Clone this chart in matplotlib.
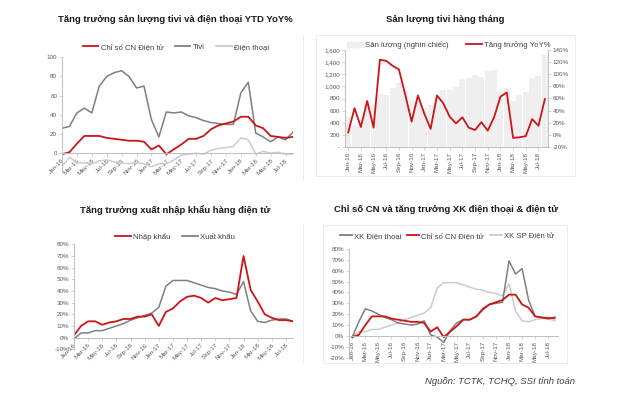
import matplotlib
matplotlib.use('Agg')
import matplotlib.pyplot as plt
from matplotlib.lines import Line2D
from matplotlib.patches import Rectangle, Patch

plt.rcParams['font.family'] = ['Liberation Sans', 'DejaVu Sans']

month_abbr = ['Jan', 'Feb', 'Mar', 'Apr', 'May', 'Jun', 'Jul', 'Aug', 'Sep', 'Oct', 'Nov', 'Dec']
months = [f"{m}-{y}" for y in ('16', '17', '18') for m in month_abbr][:32]

# Panel 1: YTD YoY% growth
cn_dien_tu = [-1, 1, 10, 18, 18, 18, 16, 15, 14, 13, 13, 12, 4, 8, -1, 4,
              9, 15, 15, 18, 25, 29, 31, 33, 38, 38, 29, 26, 18, 17, 16, 17]
tivi_ytd = [26, 28, 42, 47, 42, 70, 80, 84, 86, 80, 68, 70, 35, 17, 43, 42,
            43, 39, 37, 34, 32, 31, 30, 30, 63, 74, 21, 17, 12, 17, 14, 22]
dien_thoai_ytd = [-14, -4, -10, -10, -11, -8, -7, -9, -10, -11, -10, -11, -14, -11, -11, -7,
                  -2, -1, 0, -1, 3, 5, 6, 7, 16, 14, -1, 2, 0, 1, -1, -1]

# Panel 2: monthly TV output
san_luong_tivi = [500, 350, 350, 690, 690, 870, 860, 970, 1050, 930, 760, 800, 640, 690, 830, 940,
                  940, 995, 1115, 1140, 1190, 1150, 1250, 1270, 920, 970, 760, 860, 910, 1130, 1170, 1520]
tivi_yoy = [4, 44, 13, 56, 12, 124, 122, 114, 108, 66, 22, 65, 35, 10, 65, 52,
            30, 19, 29, 12, 8, 21, 7, 29, 63, 70, -5, -4, -2, 26, 15, 59]

# Panel 3: electronics import / export growth
nhap_khau = [2, 10, 14, 14, 11, 13, 14, 16, 16, 18, 18, 20, 10, 22, 25, 31,
             35, 36, 34, 30, 34, 32, 33, 34, 70, 41, 31, 20, 17, 15, 15, 14]
xuat_khau = [-1, 4, 4, 6, 6, 8, 10, 12, 15, 17, 19, 21, 26, 44, 49, 49,
             49, 47, 45, 43, 42, 40, 39, 37, 48, 23, 14, 13, 15, 16, 16, 14]

# Panel 4
xk_dien_thoai = [-1, 13, 25, 23, 20, 17, 15, 12, 11, 10, 11, 14, 1, -1, -6, 5,
                 12, 15, 15, 18, 24, 29, 30, 31, 69, 57, 62, 33, 18, 17, 17, 16]
xk_sp_dien_tu = xuat_khau

RED = '#CC1518'
DARK = '#7F7F7F'
LIGHT = '#CCCCCC'
BAR = '#EFEFEF'
TXT = '#595959'
AX = '#BFBFBF'

W, H = 640, 393
fig = plt.figure(figsize=(W / 100, H / 100), dpi=100)
fig.patch.set_facecolor('white')


def ax_px(x0, y0, x1, y1):
    return fig.add_axes([x0 / W, 1 - y1 / H, (x1 - x0) / W, (y1 - y0) / H])


def style(ax, right=False):
    for s in ['top', 'right', 'left', 'bottom']:
        ax.spines[s].set_visible(False)
    ax.spines['bottom'].set_visible(True)
    ax.spines['left'].set_visible(not right)
    ax.spines['right'].set_visible(right)
    for s in ['left', 'bottom', 'right']:
        ax.spines[s].set_color(AX)
        ax.spines[s].set_linewidth(0.7)
    ax.tick_params(length=2, width=0.5, color=AX, labelsize=4.5, labelcolor=TXT, pad=1.5)
    ax.set_facecolor('none')


def title(x, y, s):
    fig.text(x / W, 1 - y / H, s, ha='center', va='center', fontsize=6.8,
             fontweight='bold', color='#1a1a1a')


def legend(ax, handles, labels, x, y, spacing=1.5):
    ax.legend(handles, labels, loc='center', bbox_to_anchor=(x / W, 1 - y / H),
              bbox_transform=fig.transFigure, ncol=len(handles), frameon=False,
              fontsize=5.6, handlelength=2.0, handletextpad=0.3, columnspacing=spacing,
              labelcolor='#404040')


def line_h(c, lw=1.3):
    return Line2D([0], [0], color=c, lw=lw)


x = list(range(32))
tick_pos = list(range(0, 32, 2))
tick_lab = months[::2]

# borders
fig.add_artist(Line2D([303 / W, 303 / W], [1 - 35 / H, 1 - 180 / H], color='#E8E8E8', lw=0.6))
fig.add_artist(Line2D([303 / W, 303 / W], [1 - 225 / H, 1 - 363 / H], color='#E8E8E8', lw=0.6))
fig.add_artist(Rectangle((316 / W, 1 - 176 / H), (575 - 316) / W, (176 - 35) / H,
                         transform=fig.transFigure, fill=False, ec='#E8E8E8', lw=0.6))
fig.add_artist(Rectangle((323 / W, 1 - 363 / H), (567 - 323) / W, (363 - 225) / H,
                         transform=fig.transFigure, fill=False, ec='#E8E8E8', lw=0.6))

# ---------- Panel 1 ----------
ax1 = ax_px(62, 57.3, 293, 172.4)
style(ax1)
ax1.plot(x, dien_thoai_ytd, color=LIGHT, lw=1.1)
ax1.plot(x, tivi_ytd, color=DARK, lw=1.1)
ax1.plot(x, cn_dien_tu, color=RED, lw=1.3)
ax1.set_xlim(0, 31)
ax1.set_ylim(-20, 100)
ax1.spines['bottom'].set_position(('data', 0))
ax1.set_yticks([0, 20, 40, 60, 80, 100])
ax1.set_xticks(tick_pos)
ax1.set_xticklabels(tick_lab, rotation=45, ha='right', rotation_mode='anchor')
title(175, 20, 'Tăng trưởng sản lượng tivi và điện thoại YTD YoY%')
legend(ax1, [line_h(RED), line_h(DARK), line_h(LIGHT)],
       ['Chỉ số CN Điện tử', 'Tivi', 'Điện thoại'], 176, 47)

# ---------- Panel 2 ----------
ax2 = ax_px(345, 50, 548, 147)
style(ax2)
ax2.bar(x, san_luong_tivi, width=0.95, color=BAR)
ax2.set_xlim(-0.5, 31.5)
ax2.set_ylim(0, 1600)
ax2.set_yticks(range(0, 1601, 200))
ax2.set_yticklabels(['-'] + [f"{v:,}" for v in range(200, 1601, 200)])
ax2.set_xticks(tick_pos)
ax2.set_xticklabels(tick_lab, rotation=90)
ax2r = ax2.twinx()
style(ax2r, right=True)
ax2r.spines['bottom'].set_visible(False)
ax2r.plot(x, tivi_yoy, color=RED, lw=1.3)
ax2r.set_ylim(-20, 140)
ax2r.set_yticks(range(-20, 141, 20))
ax2r.set_yticklabels([f"{v}%" for v in range(-20, 141, 20)])
title(445, 20, 'Sản lượng tivi hàng tháng')
legend(ax2r, [Patch(color=BAR), line_h(RED)],
       ['Sản lượng (nghìn chiếc)', 'Tăng trưởng YoY%'], 449, 45, spacing=2.2)

# ---------- Panel 3 ----------
ax3 = ax_px(74, 244.3, 293, 349.3)
style(ax3)
ax3.plot(x, xuat_khau, color=DARK, lw=1.1)
ax3.plot(x, nhap_khau, color=RED, lw=1.3)
ax3.set_xlim(0, 31)
ax3.set_ylim(-10, 80)
ax3.spines['bottom'].set_position(('data', 0))
ax3.set_yticks(range(-10, 81, 10))
ax3.set_yticklabels([f"{v}%" for v in range(-10, 81, 10)])
ax3.set_xticks(tick_pos)
ax3.set_xticklabels(tick_lab, rotation=45, ha='right', rotation_mode='anchor')
title(175, 210, 'Tăng trưởng xuất nhập khẩu hàng điện tử')
legend(ax3, [line_h(RED), line_h(DARK)], ['Nhập khẩu', 'Xuất khẩu'], 175, 237)

# ---------- Panel 4 ----------
ax4 = ax_px(349, 249, 558, 357.7)
style(ax4)
ax4.plot(x, xk_sp_dien_tu, color=LIGHT, lw=1.1)
ax4.plot(x, xk_dien_thoai, color=DARK, lw=1.1)
ax4.plot(x, cn_dien_tu, color=RED, lw=1.3)
ax4.set_xlim(-0.5, 31.5)
ax4.set_ylim(-20, 80)
ax4.spines['bottom'].set_position(('data', 0))
ax4.set_yticks(range(-20, 81, 10))
ax4.set_yticklabels([f"{v}%" for v in range(-20, 81, 10)])
ax4.set_xticks(tick_pos)
ax4.set_xticklabels(tick_lab, rotation=90)
title(446, 210, 'Chỉ số CN và tăng trưởng XK điện thoại & điện tử')
ax4.legend([line_h(DARK), line_h(RED), line_h(LIGHT)],
           ['XK Điện thoại', 'Chỉ số CN Điện tử', 'XK SP Điện tử'], loc='center',
           bbox_to_anchor=(447 / W, 1 - 236 / H), bbox_transform=fig.transFigure, ncol=3,
           frameon=False, fontsize=5.6, handlelength=1.6, handletextpad=0.25,
           columnspacing=0.7, labelcolor='#404040')

fig.text(575 / W, 1 - 382 / H, 'Nguồn: TCTK, TCHQ, SSI tính toán', ha='right', va='center',
         fontsize=6.8, style='italic', color='#404040')

fig.savefig('out.png', dpi=100, facecolor='white')
